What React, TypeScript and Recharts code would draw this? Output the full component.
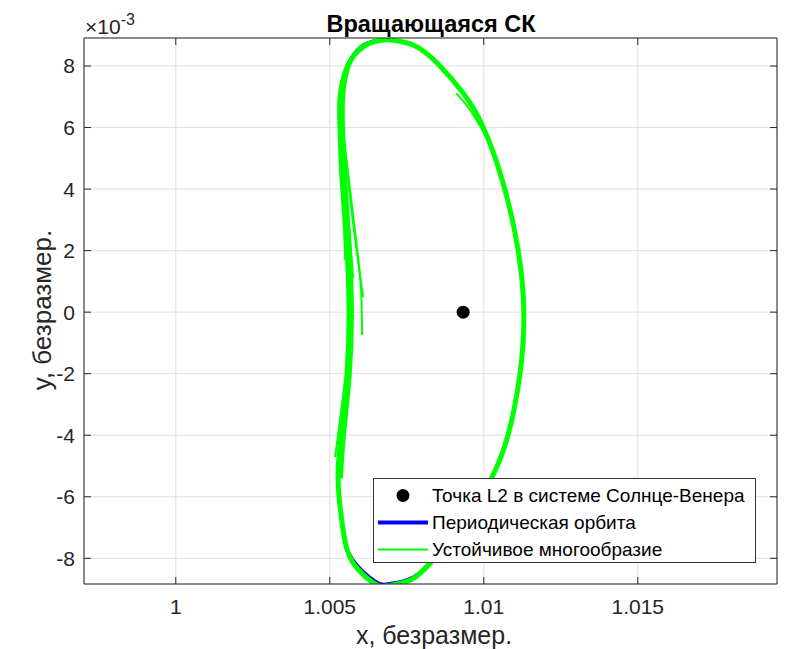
import {
  ComposedChart,
  Line,
  Scatter,
  XAxis,
  YAxis,
  CartesianGrid,
  Legend,
} from 'recharts';

type Pt = { x: number; y: number };

// y values are in units of 1e-3 (axis shows the x10^-3 multiplier)
const xTicks = [1, 1.005, 1.01, 1.015];
const yTicks = [-8, -6, -4, -2, 0, 2, 4, 6, 8];

const l2Point: Pt[] = [{ x: 1.00933, y: 0 }];

const orbitX = [
  1.006861, 1.007705, 1.008484, 1.009328, 1.009977, 1.010627, 1.011114, 1.0113,
  1.011179, 1.010789, 1.01027, 1.00962, 1.008971, 1.008354, 1.007705, 1.006958,
  1.006471, 1.005757, 1.005432, 1.005269, 1.005367, 1.005562, 1.005627, 1.005562,
  1.005399, 1.005334, 1.005334, 1.005562, 1.005886, 1.006309, 1.006861,
];
const orbitY = [
  8.86, 8.684, 8.099, 7.124, 6.019, 4.199, 2.021, 0, -1.976, -3.991, -5.356,
  -6.493, -7.403, -8.053, -8.606, -8.817, -8.736, -8.053, -7.078, -5.453,
  -4.056, -1.976, 0, 2.021, 4.296, 5.921, 6.994, 7.969, 8.521, 8.781, 8.86,
];

const manifoldX = [
  1.006861, 1.007705, 1.008484, 1.009328, 1.009977, 1.010627, 1.011114, 1.0113,
  1.011179, 1.010789, 1.01027, 1.00962, 1.008971, 1.008354, 1.007705, 1.006958,
  1.006471, 1.005757, 1.005432, 1.005269, 1.005367, 1.005562, 1.005627, 1.005562,
  1.005399, 1.005334, 1.005334, 1.005562, 1.005936, 1.006339, 1.006861,
];
const manifoldY = [
  8.86, 8.684, 8.099, 7.124, 6.019, 4.199, 2.021, 0, -1.976, -3.991, -5.356,
  -6.493, -7.403, -8.053, -8.66, -8.88, -8.83, -8.15, -7.078, -5.453, -4.056,
  -1.976, 0, 2.021, 4.296, 5.921, 6.994, 7.969, 8.5, 8.76, 8.86,
];

const leftBundleX = [1.0061, 1.0057, 1.00545, 1.00543, 1.0055, 1.00565, 1.00572, 1.00565, 1.00546, 1.00536];
const leftBundleY = [8.7, 8.2, 7.2, 5.9, 4.3, 2.0, 0, -2.0, -4.0, -5.4];

const strand1X = [1.005367, 1.005432, 1.005497];
const strand1Y = [6.24, 3.97, 1.7];
const strand2X = [1.005399, 1.005562, 1.005757];
const strand2Y = [6.24, 3.65, 1.11];
const strand3X = [1.005432, 1.005724, 1.006081];
const strand3Y = [5.92, 3.16, 0.49];
const strand4X = [1.005464, 1.005854, 1.006016, 1.006049];
const strand4Y = [5.6, 2.34, 0.72, -0.74];
const strand5X = [1.005497, 1.005334, 1.005172];
const strand5Y = [-2.2, -3.5, -4.71];
const strand6X = [1.009101, 1.009555, 1.010042];
const strand6Y = [7.12, 6.57, 5.76];

const zip = (xs: number[], ys: number[]): Pt[] => xs.map((x, i) => ({ x, y: ys[i] }));

const orbit = zip(orbitX, orbitY);
const manifold = zip(manifoldX, manifoldY);
const leftBundle = zip(leftBundleX, leftBundleY);
const strands = [
  zip(strand1X, strand1Y),
  zip(strand2X, strand2Y),
  zip(strand3X, strand3Y),
  zip(strand4X, strand4Y),
  zip(strand5X, strand5Y),
  zip(strand6X, strand6Y),
];

const FONT = '"Liberation Sans", Arial, Helvetica, sans-serif';
const AXIS = '#262626';
const GREEN = '#00ff00';
const BLUE = '#0000ff';

function LegendBox() {
  const rows = [
    { label: 'Точка L2 в системе Солнце-Венера', kind: 'dot' },
    { label: 'Периодическая орбита', kind: 'blue' },
    { label: 'Устойчивое многообразие', kind: 'green' },
  ];
  return (
    <div
      style={{
        width: 383,
        height: 85,
        background: '#fff',
        border: '1px solid #333',
        fontFamily: FONT,
        fontSize: 19,
        color: '#000',
        paddingTop: 3,
        boxSizing: 'border-box',
      }}
    >
      {rows.map((r) => (
        <div key={r.label} style={{ display: 'flex', alignItems: 'center', height: 27 }}>
          <svg width={58} height={27}>
            {r.kind === 'dot' && <circle cx={29} cy={13.5} r={6.5} fill="#000" />}
            {r.kind === 'blue' && <line x1={4} x2={54} y1={13.5} y2={13.5} stroke={BLUE} strokeWidth={4} />}
            {r.kind === 'green' && <line x1={4} x2={54} y1={13.5} y2={13.5} stroke={GREEN} strokeWidth={2} />}
          </svg>
          <span>{r.label}</span>
        </div>
      ))}
    </div>
  );
}

export default function App() {
  return (
    <div>
      <style>{'body{margin:0}'}</style>
      <ComposedChart
        width={785}
        height={649}
        margin={{ top: 37, right: 7, bottom: 25, left: 24 }}
        style={{ fontFamily: FONT }}
      >
        <CartesianGrid stroke="#dfdfdf" strokeWidth={1} />
        <XAxis
          dataKey="x"
          type="number"
          domain={[0.99702, 1.01952]}
          ticks={xTicks}
          allowDataOverflow
          height={40}
          stroke={AXIS}
          tickSize={-7}
          tickMargin={22}
          tick={{ fontSize: 21, fill: AXIS }}
          label={{
            content: () => (
              <text x={434} y={644} textAnchor="middle" fontSize={25} fill={AXIS}>
                x, безразмер.
              </text>
            ),
          }}
        />
        <XAxis
          xAxisId="top"
          orientation="top"
          dataKey="x"
          type="number"
          domain={[0.99702, 1.01952]}
          ticks={xTicks}
          allowDataOverflow
          height={1}
          stroke={AXIS}
          tickSize={-7}
          tickFormatter={() => ''}
          label={{
            content: () => (
              <text x={431} y={32} textAnchor="middle" fontSize={23.5} fontWeight="bold" fill="#000">
                Вращающаяся СК
              </text>
            ),
          }}
        />
        <YAxis
          type="number"
          domain={[-8.835, 8.91]}
          ticks={yTicks}
          allowDataOverflow
          width={60}
          stroke={AXIS}
          tickSize={-7}
          tickMargin={16}
          tick={{ fontSize: 21, fill: AXIS }}
          label={{
            content: () => (
              <text
                x={51}
                y={310}
                transform="rotate(-90 51 310)"
                textAnchor="middle"
                fontSize={26}
                fill={AXIS}
              >
                y, безразмер.
              </text>
            ),
          }}
        />
        <YAxis
          yAxisId="right"
          orientation="right"
          type="number"
          domain={[-8.835, 8.91]}
          ticks={yTicks}
          allowDataOverflow
          width={1}
          stroke={AXIS}
          tickSize={-7}
          tickFormatter={() => ''}
          label={{
            content: () => (
              <text x={85} y={34} fill={AXIS} style={{ fontSize: 21 }}>
                <tspan style={{ fontSize: 21 }}>×10</tspan>
                <tspan dy={-9} style={{ fontSize: 16 }}>
                  -3
                </tspan>
              </text>
            ),
          }}
        />
        <Line
          data={orbit}
          dataKey="y"
          type="natural"
          stroke={BLUE}
          strokeWidth={3}
          dot={false}
          activeDot={false}
          isAnimationActive={false}
        />
        <Line
          data={manifold}
          dataKey="y"
          type="natural"
          stroke={GREEN}
          strokeWidth={5}
          dot={false}
          activeDot={false}
          isAnimationActive={false}
        />
        <Line
          data={leftBundle}
          dataKey="y"
          type="natural"
          stroke={GREEN}
          strokeWidth={4}
          dot={false}
          activeDot={false}
          isAnimationActive={false}
        />
        {strands.map((s, i) => (
          <Line
            key={`strand-${i}`}
            data={s}
            dataKey="y"
            type="natural"
            stroke={GREEN}
            strokeWidth={2}
            dot={false}
            activeDot={false}
            isAnimationActive={false}
          />
        ))}
        <Scatter
          data={l2Point}
          dataKey="y"
          isAnimationActive={false}
          shape={(p: any) => <circle cx={p.cx} cy={p.cy} r={6.5} fill="#000" />}
        />
        <Legend
          layout="horizontal"
          verticalAlign="middle"
          align="center"
          wrapperStyle={{ left: 373, top: 478, width: 383, height: 85 }}
          content={() => <LegendBox />}
        />
      </ComposedChart>
    </div>
  );
}
